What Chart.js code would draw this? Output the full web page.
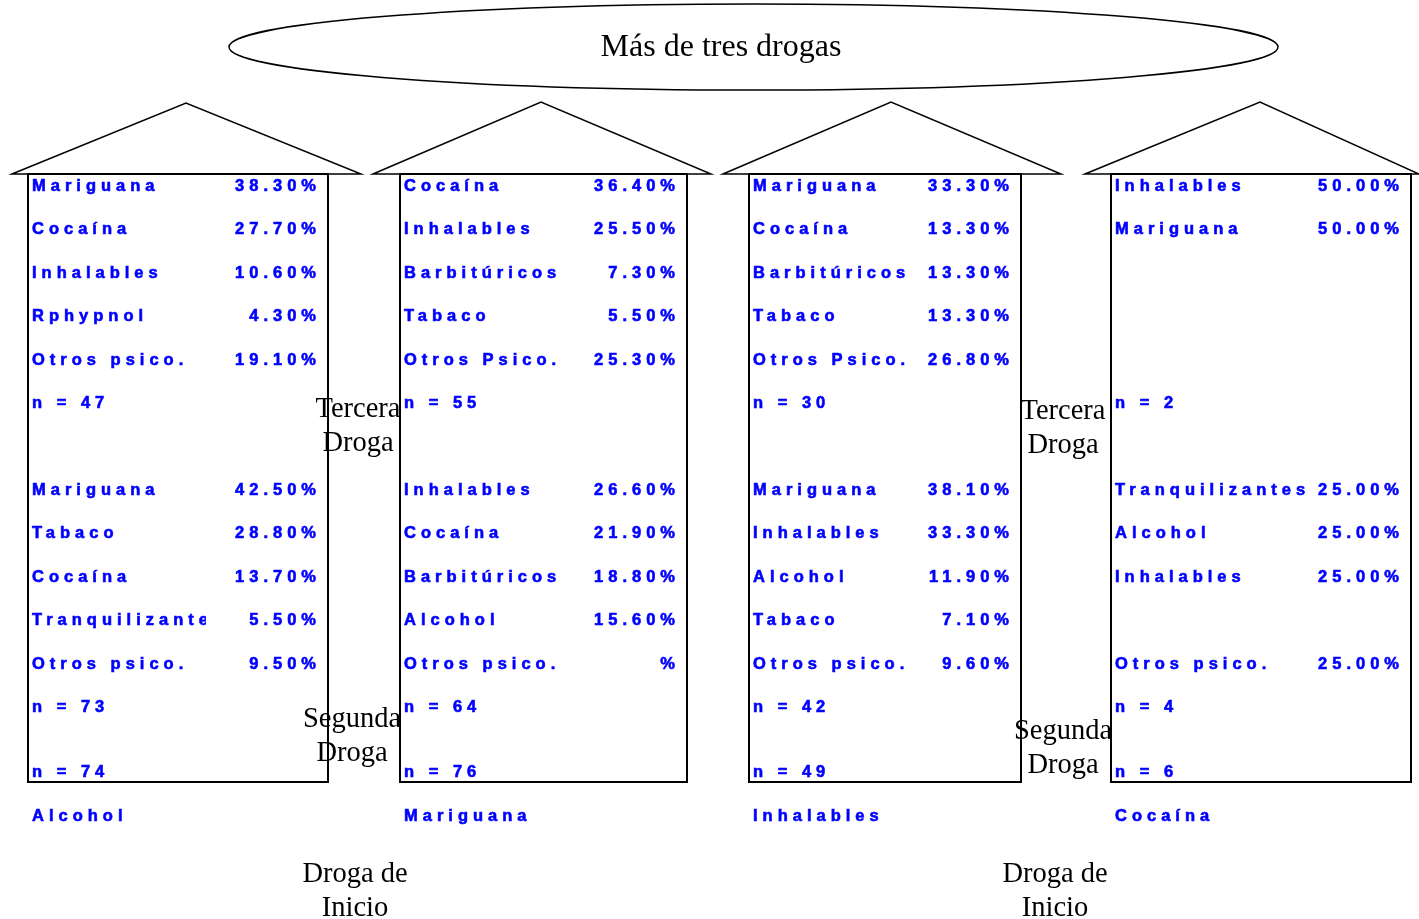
<!DOCTYPE html>
<html>
<head>
<meta charset="utf-8">
<script src="https://cdn.jsdelivr.net/npm/chart.js@4.4.1/dist/chart.umd.min.js"></script>
<style>
  body { margin: 0; background: #fff; }
  #wrap { width: 1419px; height: 919px; }
</style>
</head>
<body>
<div id="wrap"><canvas id="diagram" width="1419" height="919"></canvas></div>
<script>
// datos del diagrama
const titulo = 'Más de tres drogas';
const inicio = ['Alcohol', 'Mariguana', 'Inhalables', 'Cocaína'];
const nInicio = [74, 76, 49, 6];

const segundaDrogas = [
  ['Mariguana', 'Tabaco', 'Cocaína', 'Tranquilizantes', 'Otros psico.'],
  ['Inhalables', 'Cocaína', 'Barbitúricos', 'Alcohol', 'Otros psico.'],
  ['Mariguana', 'Inhalables', 'Alcohol', 'Tabaco', 'Otros psico.'],
  ['Tranquilizantes', 'Alcohol', 'Inhalables', '', 'Otros psico.']
];
const segundaPct = [
  [42.5, 28.8, 13.7, 5.5, 9.5],
  [26.6, 21.9, 18.8, 15.6, null],
  [38.1, 33.3, 11.9, 7.1, 9.6],
  [25, 25, 25, null, 25]
];
const nSegunda = [73, 64, 42, 4];

const terceraDrogas = [
  ['Mariguana', 'Cocaína', 'Inhalables', 'Rphypnol', 'Otros psico.'],
  ['Cocaína', 'Inhalables', 'Barbitúricos', 'Tabaco', 'Otros Psico.'],
  ['Mariguana', 'Cocaína', 'Barbitúricos', 'Tabaco', 'Otros Psico.'],
  ['Inhalables', 'Mariguana']
];
const terceraPct = [
  [38.3, 27.7, 10.6, 4.3, 19.1],
  [36.4, 25.5, 7.3, 5.5, 25.3],
  [33.3, 13.3, 13.3, 13.3, 26.8],
  [50, 50]
];
const nTercera = [47, 55, 30, 2];

// layout (unidades de la escala)
const cajas = [[28, 328], [400, 687], [749, 1021], [1111, 1411]];
const techos = [[12, 186, 361, 103], [373, 541, 711, 102], [723, 891, 1061, 102], [1085, 1260, 1419, 102]];
const anchoEtiqueta = [174, 190, 190, 200];
const yTercera = 186, ySegunda = 490, paso = 43.5;

const azul = '#0000ff';
const spacing = 5;

const diagramPlugin = {
  id: 'diagram',
  afterDraw(chart) {
    const ctx = chart.ctx;
    const X = v => chart.scales.x.getPixelForValue(v);
    const Y = v => chart.scales.y.getPixelForValue(v);
    ctx.save();

    // elipse del título
    ctx.strokeStyle = '#000';
    ctx.lineWidth = 1.5;
    ctx.beginPath();
    ctx.ellipse(X(753.5), Y(47), X(1278) - X(753.5), Math.abs(Y(90) - Y(47)), 0, 0, Math.PI * 2);
    ctx.stroke();
    ctx.fillStyle = '#000';
    ctx.font = '32px "Liberation Serif", "Times New Roman", serif';
    ctx.textAlign = 'center';
    ctx.textBaseline = 'middle';
    ctx.fillText(titulo, X(721), Y(48));

    // casas
    techos.forEach(([x0, xm, x1, yTop], i) => {
      ctx.lineWidth = 1.5;
      ctx.beginPath();
      ctx.moveTo(X(x0), Y(174));
      ctx.lineTo(X(xm), Y(yTop));
      ctx.lineTo(X(x1), Y(174));
      ctx.closePath();
      ctx.stroke();
      const [bl, br] = cajas[i];
      ctx.lineWidth = 2;
      ctx.strokeRect(X(bl), Y(174), X(br) - X(bl), Y(782) - Y(174));
    });

    // textos azules
    const fila = (i, y, label, pct) => {
      const [bl, br] = cajas[i];
      ctx.save();
      ctx.font = 'bold 16.5px "Liberation Sans", Arial, sans-serif';
      ctx.letterSpacing = spacing + 'px';
      ctx.textBaseline = 'middle';
      ctx.fillStyle = azul;
      ctx.strokeStyle = azul;
      ctx.lineWidth = 0.6;
      if (label) {
        ctx.save();
        ctx.beginPath();
        ctx.rect(X(bl + 2), Y(y - 15), X(bl + 4 + anchoEtiqueta[i]) - X(bl + 2), 30);
        ctx.clip();
        ctx.textAlign = 'left';
        ctx.fillText(label, X(bl + 4), Y(y));
        ctx.strokeText(label, X(bl + 4), Y(y));
        ctx.restore();
      }
      if (pct !== undefined) {
        ctx.textAlign = 'right';
        const txt = pct === null ? '%' : pct.toFixed(2) + '%';
        ctx.fillText(txt, X(br - 10) + 3, Y(y));
        ctx.strokeText(txt, X(br - 10) + 3, Y(y));
      }
      ctx.restore();
    };
    cajas.forEach((c, i) => {
      terceraDrogas[i].forEach((d, k) => fila(i, yTercera + k * paso, d, terceraPct[i][k]));
      fila(i, yTercera + 5 * paso, 'n = ' + nTercera[i]);
      segundaDrogas[i].forEach((d, k) => {
        if (d === '' && segundaPct[i][k] === null) return;
        fila(i, ySegunda + k * paso, d, segundaPct[i][k]);
      });
      fila(i, ySegunda + 5 * paso, 'n = ' + nSegunda[i]);
      fila(i, 772, 'n = ' + nInicio[i]);
      fila(i, 816, inicio[i]);
    });

    // rótulos negros
    ctx.fillStyle = '#000';
    ctx.font = '28.5px "Liberation Serif", "Times New Roman", serif';
    ctx.textAlign = 'center';
    const rotulo = (x, y, a, b) => {
      ctx.fillText(a, X(x), Y(y + 3));
      ctx.fillText(b, X(x), Y(y + 37));
    };
    rotulo(358, 407, 'Tercera', 'Droga');
    rotulo(352, 717, 'Segunda', 'Droga');
    rotulo(1063, 409, 'Tercera', 'Droga');
    rotulo(1063, 729, 'Segunda', 'Droga');
    rotulo(355, 872, 'Droga de', 'Inicio');
    rotulo(1055, 872, 'Droga de', 'Inicio');

    ctx.restore();
  }
};

new Chart(document.getElementById('diagram'), {
  type: 'scatter',
  data: { datasets: [{ data: [], pointRadius: 0 }] },
  options: {
    responsive: false,
    animation: false,
    layout: { padding: 0 },
    plugins: { legend: { display: false }, tooltip: { enabled: false } },
    scales: {
      x: { type: 'linear', min: 0, max: 1419, display: false },
      y: { type: 'linear', min: 0, max: 919, reverse: true, display: false }
    }
  },
  plugins: [diagramPlugin]
});
</script>
</body>
</html>
